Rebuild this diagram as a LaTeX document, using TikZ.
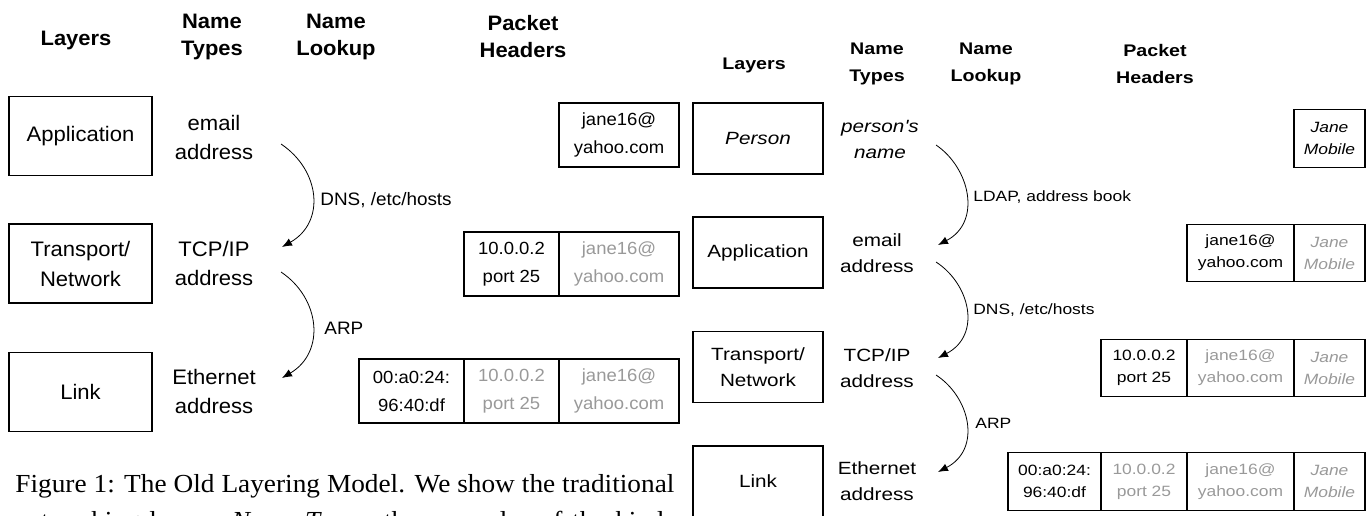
\documentclass[tikz,border=0pt]{standalone}
\usepackage{fontspec}
\setmainfont{Liberation Sans}
\newfontfamily\lsans[FakeStretch=1.05]{Liberation Sans}
\newfontfamily\rsans[FakeStretch=1.17]{Liberation Sans}
\newfontfamily\capserif[FakeStretch=1.05]{Liberation Serif}
\usetikzlibrary{arrows.meta}
\definecolor{faded}{gray}{0.6}

\tikzset{
  lhead/.style={align=center, inner sep=0pt, font=\lsans\bfseries\fontsize{10.45}{13.5}\selectfont},
  rhead/.style={align=center, inner sep=0pt, font=\rsans\bfseries\fontsize{8.4}{13.5}\selectfont},
  layerbox/.style={draw, line width=0.6pt, inner sep=0pt, align=center},
  lbox/.style={layerbox, minimum width=71.5pt, minimum height=39.5pt, font=\lsans\fontsize{10.5}{15}\selectfont},
  rbox/.style={layerbox, minimum width=65pt, minimum height=35.5pt, font=\rsans\fontsize{8.85}{12.85}\selectfont},
  lname/.style={align=center, inner sep=0pt, font=\lsans\fontsize{10.5}{14.5}\selectfont},
  rname/.style={align=center, inner sep=0pt, font=\rsans\fontsize{8.85}{13}\selectfont},
  lookup/.style={-{Latex[length=5pt,width=4pt]}, line width=0.4pt},
  llabel/.style={anchor=west, inner sep=0pt, font=\lsans\fontsize{9}{11}\selectfont},
  rlabel/.style={anchor=west, inner sep=0pt, font=\rsans\fontsize{7.45}{9}\selectfont},
  lcell/.style={draw, line width=0.6pt, inner sep=0pt, align=center, minimum height=32pt, font=\lsans\fontsize{8.8}{14}\selectfont},
  rcell/.style={draw, line width=0.6pt, inner sep=0pt, align=center, minimum height=28.75pt, font=\rsans\fontsize{7.45}{11}\selectfont},
  faint/.style={text=faded},
  captionline/.style={anchor=base west, inner sep=0pt, font=\capserif\fontsize{13}{16}\selectfont},
}

\begin{document}
\begin{tikzpicture}[x=0.5pt, y=-0.5pt]
\useasboundingbox (0,0) rectangle (1366,515);
\clip (0,0) rectangle (1366,515);

% ---------------- old layering model ----------------
\node[lhead] (lhLayers) at (76,40) {Layers};
\node[lhead] (lhTypes)  at (212,37) {Name\\Types};
\node[lhead] (lhLookup) at (336,37) {Name\\Lookup};
\node[lhead] (lhPacket) at (523,37) {Packet\\Headers};

\node[lbox] (lApp)   at (80.5,136) {Application};
\node[lbox] (lTrans) at (80.5,263.5) {Transport/\\Network};
\node[lbox] (lLink)  at (80.5,392) {Link};

\node[lname] (lEmail) at (214,137.5) {email\\address};
\node[lname] (lIP)    at (214,263) {TCP/IP\\address};
\node[lname] (lEth)   at (214,391) {Ethernet\\address};

\coordinate (lDnsFrom) at (281,144);
\coordinate (lDnsTo)   at (282,247);
\coordinate (lArpFrom) at (281,272);
\coordinate (lArpTo)   at (282,378);
\draw[lookup] (lDnsFrom) .. controls (320,170) and (326,222) .. (lDnsTo);
\draw[lookup] (lArpFrom) .. controls (320,298) and (326,352) .. (lArpTo);
\node[llabel] (lDns) at (320,200) {DNS, /etc/hosts};
\node[llabel] (lArp) at (324,328) {ARP};

% packet headers, one row per layer
\node[lcell, minimum width=60pt] (lA1) at (619,135) {jane16@\\yahoo.com};

\node[lcell, minimum width=47.5pt] (lT1) at (511.5,264) {10.0.0.2\\port 25};
\node[lcell, faint, minimum width=60pt] (lT2) at (619,264) {jane16@\\yahoo.com};

\node[lcell, minimum width=52.5pt] (lL1) at (411.5,391) {00:a0:24:\\96:40:df};
\node[lcell, faint, minimum width=47.5pt] (lL2) at (511.5,391) {10.0.0.2\\port 25};
\node[lcell, faint, minimum width=60pt] (lL3) at (619,391) {jane16@\\yahoo.com};

% caption
\node[captionline] (cap1) at (15,492)
  {\makebox[329.5pt][s]{Figure 1: The Old Layering Model. We show the traditional}};
\node[captionline] (cap2) at (15,529)
  {\makebox[329.5pt][s]{networking layers, \textit{Name Types}, the examples of the kinds}};

% ---------------- new layering model ----------------
\node[rhead] (rhLayers) at (754,65) {Layers};
\node[rhead] (rhTypes)  at (877,63.5) {Name\\Types};
\node[rhead] (rhLookup) at (986,63.5) {Name\\Lookup};
\node[rhead] (rhPacket) at (1155,64) {Packet\\Headers};

\node[rbox] (rPerson) at (758,138.5) {\itshape Person};
\node[rbox] (rApp)    at (758,252.5) {Application};
\node[rbox] (rTrans)  at (758,367) {Transport/\\Network};
\node[rbox] (rLink)   at (758,481.5) {Link};

\node[rname, font=\rsans\itshape\fontsize{8.85}{13}\selectfont] (rName) at (880,139.5) {person's\\name};
\node[rname] (rEmail) at (877,253.5) {email\\address};
\node[rname] (rIP)    at (877,368) {TCP/IP\\address};
\node[rname] (rEth)   at (877,481) {Ethernet\\address};

\coordinate (rLdapFrom) at (936,145);
\coordinate (rLdapTo)   at (938,245);
\coordinate (rDnsFrom)  at (936,262);
\coordinate (rDnsTo)    at (938,358);
\coordinate (rArpFrom)  at (936,375);
\coordinate (rArpTo)    at (938,472);
\draw[lookup] (rLdapFrom) .. controls (970,168) and (982,222) .. (rLdapTo);
\draw[lookup] (rDnsFrom) .. controls (970,284) and (982,335) .. (rDnsTo);
\draw[lookup] (rArpFrom) .. controls (970,397) and (982,449) .. (rArpTo);
\node[rlabel] (rLdap) at (973,197) {LDAP, address book};
\node[rlabel] (rDns)  at (973,310) {DNS, /etc/hosts};
\node[rlabel] (rArp)  at (975,423) {ARP};

\node[rcell, minimum width=35.5pt] (rP1) at (1329.5,138.5) {\itshape Jane\\\itshape Mobile};

\node[rcell, minimum width=53.5pt] (rA1) at (1240.5,253) {jane16@\\yahoo.com};
\node[rcell, faint, minimum width=35.5pt] (rA2) at (1329.5,253) {\itshape Jane\\\itshape Mobile};

\node[rcell, minimum width=43pt] (rT1) at (1144,368) {10.0.0.2\\port 25};
\node[rcell, faint, minimum width=53.5pt] (rT2) at (1240.5,368) {jane16@\\yahoo.com};
\node[rcell, faint, minimum width=35.5pt] (rT3) at (1329.5,368) {\itshape Jane\\\itshape Mobile};

\node[rcell, minimum width=46.5pt] (rL1) at (1054.5,481.5) {00:a0:24:\\96:40:df};
\node[rcell, faint, minimum width=43pt] (rL2) at (1144,481.5) {10.0.0.2\\port 25};
\node[rcell, faint, minimum width=53.5pt] (rL3) at (1240.5,481.5) {jane16@\\yahoo.com};
\node[rcell, faint, minimum width=35.5pt] (rL4) at (1329.5,481.5) {\itshape Jane\\\itshape Mobile};
\end{tikzpicture}
\end{document}
